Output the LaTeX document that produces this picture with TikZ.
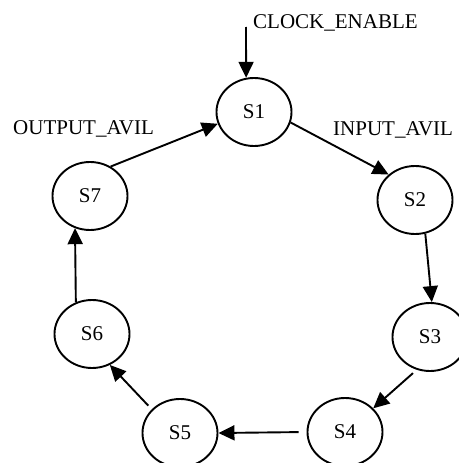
\documentclass[tikz,border=0pt]{standalone}
\usepackage{fontspec}
\setmainfont{Liberation Serif}
\usetikzlibrary{shapes.geometric,arrows.meta}
\begin{document}
\begin{tikzpicture}[x=1pt,y=-1pt,
  state/.style={draw,ellipse,line width=1.9pt,minimum width=75pt,minimum height=68pt,inner sep=0pt},
  lbl/.style={inner sep=0pt},
  conn/.style={line width=1.9pt,-{Triangle[length=16pt,width=15pt]}},
  every node/.style={font=\fontsize{21}{24}\selectfont}]
\useasboundingbox (0,0) rectangle (458,463);
\node[state] (S1) at (254,112) {S1};
\node[state] (S2) at (415,200) {S2};
\node[state] (S3) at (430,337) {S3};
\node[state] (S4) at (345,432) {S4};
\node[state] (S5) at (180,433) {S5};
\node[state] (S6) at (92,334) {S6};
\node[state] (S7) at (90,196) {S7};
\coordinate (clk) at (246,27);
\node[lbl,anchor=base west] (tclk) at (253,28) {CLOCK\_ENABLE};
\node[lbl,anchor=base west] (tin) at (333,135) {INPUT\_AVIL};
\node[lbl,anchor=base west] (tout) at (13,134) {OUTPUT\_AVIL};
\draw[conn] (clk) -- (S1.103);
\draw[conn] (S1.-16) -- (S2.136);
\draw[conn] (S2.-73) -- (S3.87);
\draw[conn,shorten <=5pt] (S3.-112) -- (S4.40);
\draw[conn,shorten <=8pt] (S4.west) -- (S5.east);
\draw[conn,shorten <=5pt] (S5.140) -- (S6.-60);
\draw[conn] (S6.117) -- (S7.-115);
\draw[conn] (S7.55) -- (S1.198);
\end{tikzpicture}
\end{document}
